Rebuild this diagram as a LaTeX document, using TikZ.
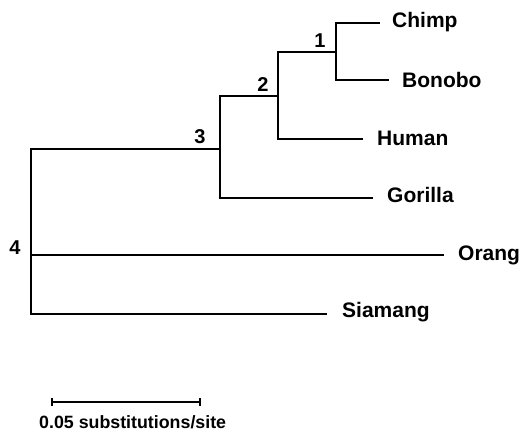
\documentclass[tikz,border=0pt]{standalone}
\usepackage{fontspec}
\setmainfont{Liberation Sans}
\begin{document}
\begin{tikzpicture}[x=1pt,y=-1pt,
  branch/.style={line width=1.4pt, line cap=rect},
  taxon/.style={anchor=west, inner xsep=0pt, inner ysep=0pt, font=\fontsize{21}{21}\selectfont\bfseries, text height=15pt, text depth=0pt},
  support/.style={inner sep=0pt, font=\fontsize{20}{20}\selectfont\bfseries},
  scalelab/.style={anchor=base west, inner sep=0pt, font=\fontsize{17.8}{17.8}\selectfont\bfseries}]
\useasboundingbox (0,0) rectangle (522,431);
% internal nodes
\coordinate (n4) at (31,255);
\coordinate (n3) at (220,149);
\coordinate (n2) at (278,96);
\coordinate (n1) at (336,52);
% leaf ends
\coordinate (eChimp) at (379,23);
\coordinate (eBonobo) at (388,80);
\coordinate (eHuman) at (362,139);
\coordinate (eGorilla) at (372,198);
\coordinate (eOrang) at (443,255);
\coordinate (eSiamang) at (326,314);
% taxon labels
\node[taxon] (Chimp) at (392,20) {Chimp};
\node[taxon] (Bonobo) at (402,80) {Bonobo};
\node[taxon] (Human) at (377,137.5) {Human};
\node[taxon] (Gorilla) at (387,195) {Gorilla};
\node[taxon] (Orang) at (458,253) {Orang};
\node[taxon] (Siamang) at (342,310) {Siamang};
% support labels
\node[support] (l1) at (320,41) {1};
\node[support] (l2) at (263,85) {2};
\node[support] (l3) at (200,137) {3};
\node[support] (l4) at (15,248) {4};
% branches
\draw[branch] (n4) |- (n3);
\draw[branch] (n4) |- (eSiamang);
\draw[branch] (n4) -- (eOrang);
\draw[branch] (n3) |- (n2);
\draw[branch] (n3) |- (eGorilla);
\draw[branch] (n2) |- (n1);
\draw[branch] (n2) |- (eHuman);
\draw[branch] (n1) |- (eChimp);
\draw[branch] (n1) |- (eBonobo);
% scale bar
\coordinate (s0) at (52,402);
\coordinate (s1) at (200,402);
\draw[line width=1.3pt] (s0) -- (s1);
\draw[line width=1.3pt] ([yshift=-4pt]s0) -- ([yshift=4pt]s0);
\draw[line width=1.3pt] ([yshift=-4pt]s1) -- ([yshift=4pt]s1);
\node[scalelab] (scale) at (39,428) {0.05 substitutions/site};
\end{tikzpicture}
\end{document}
